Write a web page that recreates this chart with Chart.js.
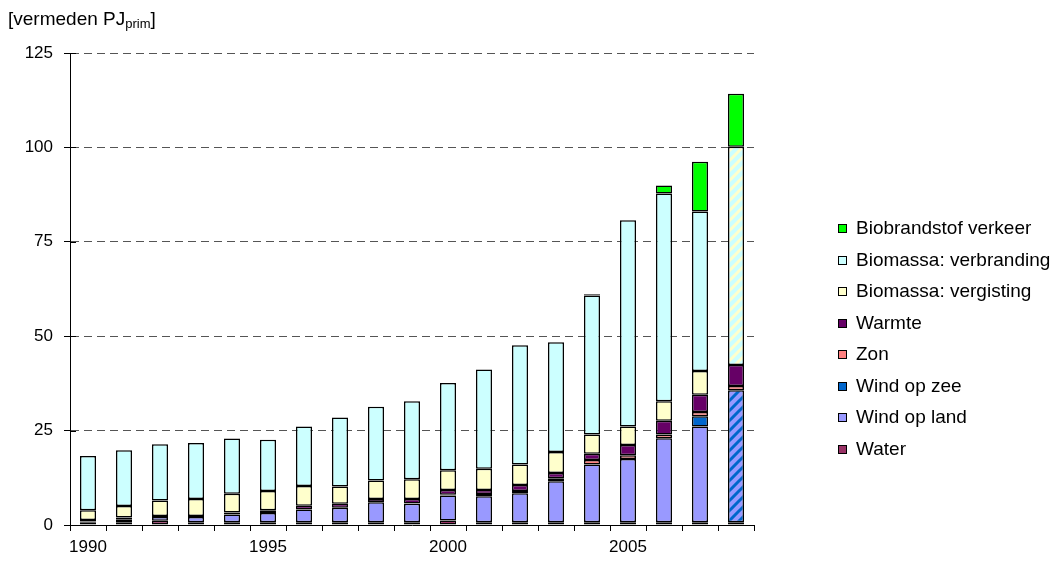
<!DOCTYPE html>
<html>
<head>
<meta charset="utf-8">
<script src="https://cdn.jsdelivr.net/npm/chart.js@4.4.0/dist/chart.umd.min.js"></script>
<style>
  body { margin: 0; background: #fff; }
  #wrap { width: 1057px; height: 562px; }
</style>
</head>
<body>
<div id="wrap"><canvas id="chart" width="1057" height="562"></canvas></div>
<script>
// categories
const years = ['1990','1991','1992','1993','1994','1995','1996','1997','1998','1999',
               '2000','2001','2002','2003','2004','2005','2006','2007','2008'];
const shownYears = ['1990', '1995', '2000', '2005'];

// series values (vermeden PJ primair), bottom to top of the stack
const water       = [0.7, 0.7, 1.1, 0.7, 0.7, 0.7, 0.7, 0.7, 0.7, 0.7, 1.2, 0.7, 0.7, 0.7, 0.7, 0.7, 0.7, 0.7, 0.7];
const windOpLand  = [0.2, 0.8, 1.0, 1.4, 2.1, 2.5, 3.4, 3.9, 5.3, 4.9, 6.6, 6.9, 7.7, 10.9, 15.3, 16.8, 22.3, 25.4, 35.0];
const windOpZee   = [0, 0, 0, 0, 0, 0, 0, 0, 0, 0, 0, 0, 0, 0, 0, 0, 0, 2.7, 0];
const zon         = [0, 0, 0, 0, 0, 0, 0, 0, 0, 0.1, 0.2, 0.6, 0.6, 0.8, 1.2, 1.0, 1.0, 1.1, 1.1];
const warmte      = [0.4, 0.5, 0.3, 0.3, 0.5, 0.7, 1.0, 1.0, 0.9, 1.2, 1.3, 1.1, 1.6, 1.4, 1.7, 2.7, 3.6, 4.6, 5.6];
const vergisting  = [2.6, 3.0, 4.1, 4.5, 5.0, 5.1, 5.2, 4.6, 4.9, 5.2, 5.2, 5.6, 5.4, 5.5, 5.1, 4.9, 5.2, 6.3, 0];
const verbranding = [14.4, 14.8, 14.9, 14.8, 14.6, 13.6, 15.8, 18.3, 19.5, 20.7, 23.1, 26.3, 31.6, 29.1, 36.8, 54.6, 55.0, 42.2, 57.8];
const biobrandstof = [0, 0, 0, 0, 0, 0, 0, 0, 0, 0, 0, 0, 0, 0, 0.3, 0, 2.1, 13.2, 14.0];

const FONT = '"Liberation Sans", Arial, sans-serif';

// diagonal stripes for the 2008 (estimate) bar
function stripes(base, stripe) {
  const s = 10;
  const c = document.createElement('canvas');
  c.width = s; c.height = s;
  const g = c.getContext('2d');
  g.fillStyle = base;
  g.fillRect(0, 0, s, s);
  g.strokeStyle = stripe;
  g.lineWidth = 3;
  g.beginPath();
  g.moveTo(-s, s); g.lineTo(s, -s);
  g.moveTo(0, s); g.lineTo(s, 0);
  g.moveTo(0, 2 * s); g.lineTo(2 * s, 0);
  g.stroke();
  return g.createPattern(c, 'repeat');
}

// last bar gets the hatched fill
function fills(color, pattern) {
  return years.map((y, i) => (pattern && i === years.length - 1) ? pattern : color);
}

function ds(label, data, color, pattern) {
  return {
    label: label,
    data: data,
    backgroundColor: fills(color, pattern),
    legendColor: color,
    borderColor: '#000',
    borderWidth: 1.5,
    borderSkipped: false,
    barPercentage: 16 / 36,
    categoryPercentage: 1.0
  };
}

const datasets = [
  ds('Water', water, '#993366'),
  ds('Wind op land', windOpLand, '#9999FF', stripes('#9999FF', '#0066CC')),
  ds('Wind op zee', windOpZee, '#0066CC'),
  ds('Zon', zon, '#FF8080'),
  ds('Warmte', warmte, '#660066'),
  ds('Biomassa: vergisting', vergisting, '#FFFFCC'),
  ds('Biomassa: verbranding', verbranding, '#CCFFFF', stripes('#CCFFFF', '#FFFFCC')),
  ds('Biobrandstof verkeer', biobrandstof, '#00FF00')
];

// unit label top left, with subscript
const unitLabelPlugin = {
  id: 'unitLabel',
  afterDraw(chart) {
    const ctx = chart.ctx;
    ctx.save();
    ctx.fillStyle = '#000';
    ctx.textBaseline = 'alphabetic';
    ctx.font = '19px ' + FONT;
    let x = 8;
    const base = 25;
    ctx.fillText('[vermeden PJ', x, base);
    x += ctx.measureText('[vermeden PJ').width;
    ctx.font = '13px ' + FONT;
    ctx.fillText('prim', x, base + 3);
    x += ctx.measureText('prim').width;
    ctx.font = '19px ' + FONT;
    ctx.fillText(']', x, base);
    ctx.restore();
  }
};

// excel style crossing ticks on the value axis (inner half)
const innerTicksPlugin = {
  id: 'innerTicks',
  afterDraw(chart) {
    const { ctx, scales } = chart;
    const y = scales.y;
    const x0 = chart.chartArea.left;
    ctx.save();
    ctx.strokeStyle = '#000';
    ctx.lineWidth = 1;
    y.ticks.forEach(t => {
      const py = Math.round(y.getPixelForValue(t.value)) + 0.5;
      ctx.beginPath();
      ctx.moveTo(x0, py);
      ctx.lineTo(x0 + 6, py);
      ctx.stroke();
    });
    ctx.restore();
  }
};

// legend on the right, top item = top of stack
const sideLegendPlugin = {
  id: 'sideLegend',
  afterDraw(chart) {
    const ctx = chart.ctx;
    const sets = chart.data.datasets.slice().reverse();
    ctx.save();
    ctx.font = '19px ' + FONT;
    ctx.textBaseline = 'middle';
    sets.forEach((d, i) => {
      const yc = Math.round(229 + i * 31.5);
      ctx.fillStyle = d.legendColor;
      ctx.fillRect(838.5, yc - 4.5, 8, 8);
      ctx.strokeStyle = '#000';
      ctx.lineWidth = 1;
      ctx.strokeRect(838.5, yc - 4.5, 8, 8);
      ctx.fillStyle = '#000';
      ctx.fillText(d.label, 856, yc);
    });
    ctx.restore();
  }
};

new Chart(document.getElementById('chart'), {
  type: 'bar',
  data: { labels: years, datasets: datasets },
  options: {
    responsive: false,
    animation: false,
    layout: { padding: { top: 53, right: 303, bottom: 0, left: 0 } },
    plugins: {
      legend: { display: false },
      tooltip: { enabled: false }
    },
    scales: {
      x: {
        stacked: true,
        grid: {
          offset: true,
          drawOnChartArea: false,
          drawTicks: true,
          tickLength: 6,
          tickColor: '#000'
        },
        border: { display: true, color: '#000', width: 1 },
        ticks: {
          autoSkip: false,
          maxRotation: 0,
          padding: 6,
          color: '#000',
          font: { family: FONT, size: 17 },
          callback: function(value) {
            const lab = this.getLabelForValue(value);
            return shownYears.includes(lab) ? lab : '';
          }
        },
        afterFit: function(scale) { scale.height = 37; }
      },
      y: {
        stacked: true,
        min: 0,
        max: 125,
        ticks: {
          stepSize: 25,
          padding: 11,
          color: '#000',
          font: { family: FONT, size: 17 }
        },
        grid: {
          color: ctx => ctx.tick && ctx.tick.value === 0 ? 'rgba(0,0,0,0)' : '#555',
          lineWidth: 1,
          tickLength: 6,
          tickColor: '#000'
        },
        border: { display: true, color: '#000', width: 1, dash: [8, 5] },
        afterFit: function(scale) { scale.width = 70; }
      }
    }
  },
  plugins: [unitLabelPlugin, innerTicksPlugin, sideLegendPlugin]
});
</script>
</body>
</html>
